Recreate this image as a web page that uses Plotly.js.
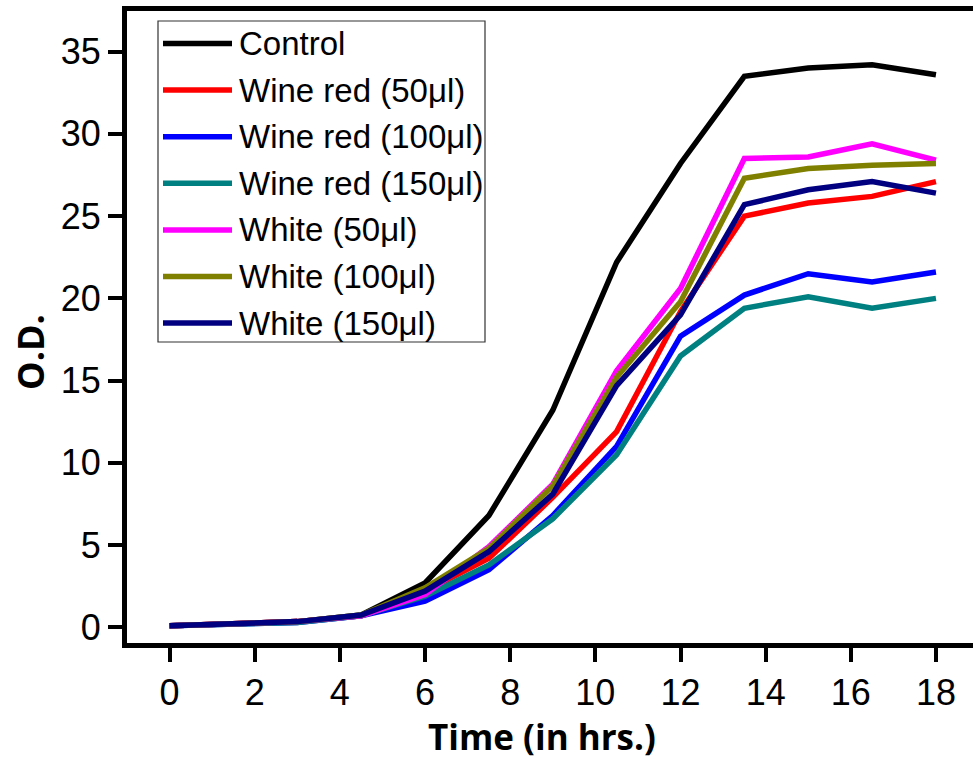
<!DOCTYPE html>
<html>
<head>
<meta charset="utf-8">
<script src="https://cdn.plot.ly/plotly-3.0.1.min.js"></script>
<style>html,body{margin:0;padding:0;background:#fff;}</style>
</head>
<body>
<div id="chart" style="width:973px;height:762px;"></div>
<script>
// Time points (hours)
const timeHrs = [0, 1.5, 3, 4.5, 6, 7.5, 9, 10.5, 12, 13.5, 15, 16.5, 18];

// O.D. series
const control      = [0.1, 0.2, 0.35, 0.75, 2.7, 6.8, 13.2, 22.2, 28.2, 33.5, 34.0, 34.2, 33.6];
const wineRed50    = [0.1, 0.2, 0.35, 0.7, 2.2, 4.2, 7.9, 11.9, 19.2, 25.0, 25.8, 26.2, 27.1];
const wineRed100   = [0.1, 0.2, 0.3, 0.7, 1.6, 3.5, 6.8, 11.0, 17.7, 20.2, 21.5, 21.0, 21.6];
const wineRed150   = [0.1, 0.2, 0.3, 0.7, 1.9, 3.8, 6.6, 10.5, 16.5, 19.4, 20.1, 19.4, 20.0];
const white50      = [0.1, 0.2, 0.35, 0.7, 2.0, 4.9, 8.7, 15.6, 20.6, 28.5, 28.6, 29.4, 28.4];
const white100     = [0.1, 0.2, 0.35, 0.75, 2.4, 4.8, 8.6, 15.2, 19.8, 27.3, 27.9, 28.1, 28.2];
const white150     = [0.1, 0.2, 0.35, 0.75, 2.2, 4.6, 8.1, 14.7, 19.0, 25.7, 26.6, 27.1, 26.4];

const seriesNames = ["Control", "Wine red (50μl)", "Wine red (100μl)", "Wine red (150μl)",
                     "White (50μl)", "White (100μl)", "White (150μl)"];
const seriesValues = [control, wineRed50, wineRed100, wineRed150, white50, white100, white150];
const seriesColors = ["#000000", "#ff0000", "#0000ff", "#008080", "#ff00ff", "#808000", "#000080"];

const xTicks = [0, 2, 4, 6, 8, 10, 12, 14, 16, 18];
const yTicks = [0, 5, 10, 15, 20, 25, 30, 35];

const traces = seriesNames.map((name, i) => ({
  x: timeHrs,
  y: seriesValues[i],
  name: name,
  type: "scatter",
  mode: "lines",
  line: { color: seriesColors[i], width: 5.5 },
  showlegend: false
}));

// pixel helpers for custom legend (plot area: x 127..973, y 11..643)
const L = 127, R = 973, T = 11, B = 643;
const px = p => (p - L) / (R - L);
const py = p => (B - p) / (B - T);

const shapes = [{
  type: "rect", xref: "paper", yref: "paper",
  x0: px(158), x1: px(485), y0: py(21), y1: py(342),
  line: { color: "#333", width: 1.2 }, fillcolor: "rgba(255,255,255,0)"
}];
const annotations = [];
seriesNames.forEach((name, i) => {
  const yc = 43.5 + i * 46.6;
  shapes.push({
    type: "line", xref: "paper", yref: "paper",
    x0: px(163), x1: px(232), y0: py(yc), y1: py(yc),
    line: { color: seriesColors[i], width: 5.5 }
  });
  annotations.push({
    xref: "paper", yref: "paper", x: px(237), y: py(yc),
    xanchor: "left", yanchor: "middle", showarrow: false,
    text: name, font: { family: "Liberation Sans, Arial, sans-serif", size: 33, color: "#000" }
  });
});

// axis titles placed to match the reference
annotations.push({
  xref: "paper", yref: "paper", x: px(542), y: py(737),
  xanchor: "center", yanchor: "middle", showarrow: false,
  text: "Time (in hrs.)",
  font: { family: "Open Sans, sans-serif", size: 35, color: "#000", weight: "bold" }
});
annotations.push({
  xref: "paper", yref: "paper", x: px(30), y: py(352),
  xanchor: "center", yanchor: "middle", showarrow: false, textangle: -90,
  text: "O.D.",
  font: { family: "Open Sans, sans-serif", size: 36, color: "#000", weight: "bold" }
});

const layout = {
  width: 973, height: 762,
  margin: { l: L, r: 0, t: T, b: 762 - B },
  paper_bgcolor: "#fff", plot_bgcolor: "#fff",
  showlegend: false,
  xaxis: {
    range: [-1.0, 18.87],
    tickvals: xTicks, ticktext: xTicks.map(String),
    ticks: "outside", ticklen: 14, tickwidth: 4, tickcolor: "#000",
    showline: true, linewidth: 5, linecolor: "#000", mirror: true,
    showgrid: false, zeroline: false,
    tickfont: { family: "Liberation Sans, Arial, sans-serif", size: 36, color: "#000" }
  },
  yaxis: {
    range: [-0.95, 37.47],
    tickvals: yTicks, ticktext: yTicks.map(String),
    ticks: "outside", ticklen: 14, tickwidth: 4, tickcolor: "#000",
    showline: true, linewidth: 5, linecolor: "#000", mirror: false,
    showgrid: false, zeroline: false,
    tickfont: { family: "Liberation Sans, Arial, sans-serif", size: 36, color: "#000" }
  },
  shapes: shapes,
  annotations: annotations
};

Plotly.newPlot("chart", traces, layout, { staticPlot: true, displayModeBar: false });
</script>
</body>
</html>
